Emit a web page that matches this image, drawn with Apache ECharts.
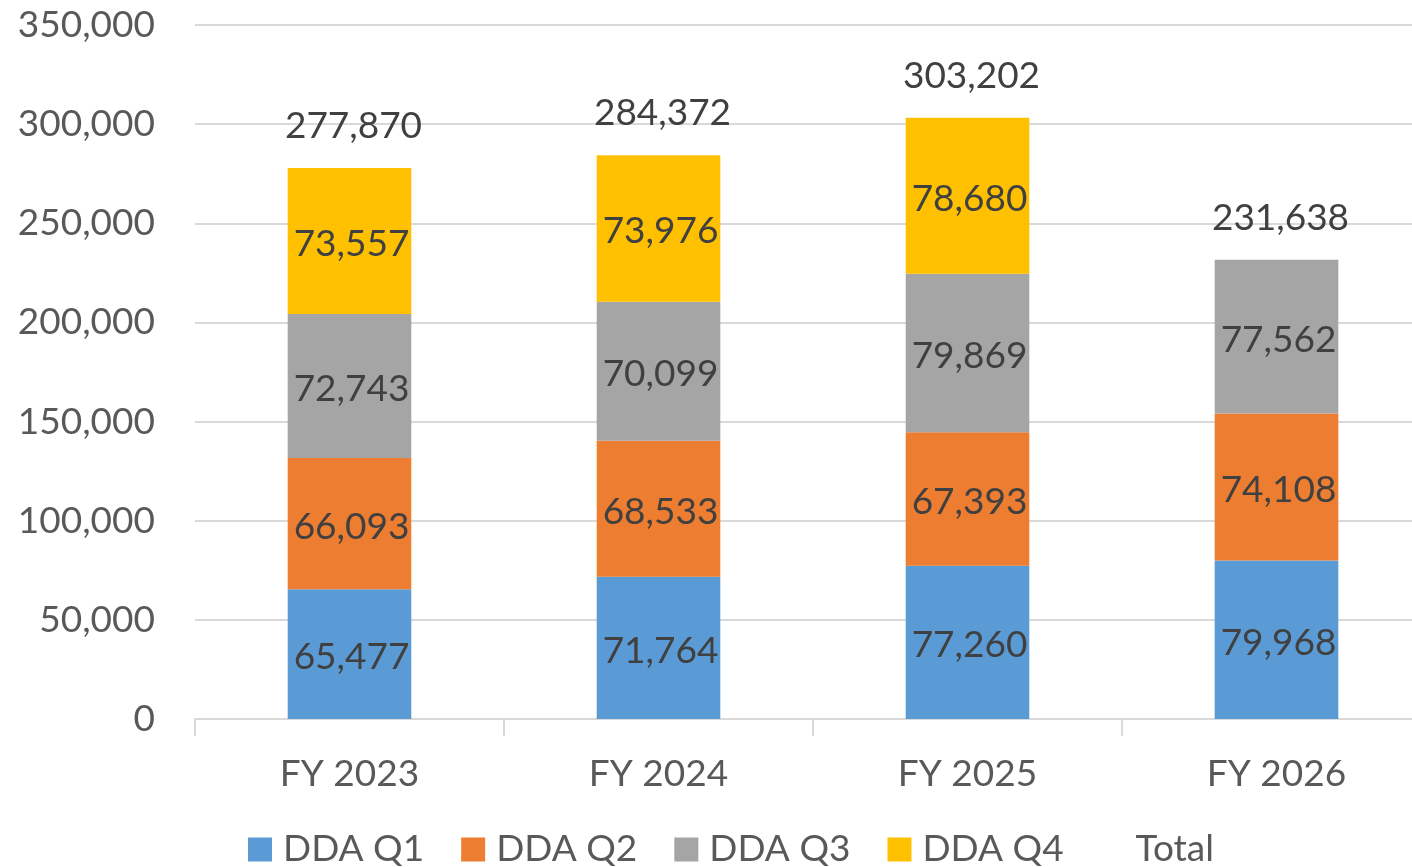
<!DOCTYPE html>
<html>
<head>
<meta charset="utf-8">
<script src="https://cdn.jsdelivr.net/npm/echarts@6/dist/echarts.min.js"></script>
<style>
  html, body {margin: 0; padding: 0; background: #fff;}
  #chart {width: 1412px; height: 867px;}
</style>
</head>
<body>
<div id="chart"></div>
<script>
const years = ["FY 2023", "FY 2024", "FY 2025", "FY 2026"];
const q1 = [65477, 71764, 77260, 79968];
const q2 = [66093, 68533, 67393, 74108];
const q3 = [72743, 70099, 79869, 77562];
const q4 = [73557, 73976, 78680, null];
const totals = [277870, 284372, 303202, 231638];

const FONT = "Lato";
const fmt = (v) => Number(v).toLocaleString("en-US");

const chart = echarts.init(document.getElementById("chart"));

function quarter(name, data, color) {
  return {
    name: name,
    type: "bar",
    stack: "dda",
    data: data,
    barWidth: "40%",
    itemStyle: {color: color},
    label: {
      show: true,
      position: "inside",
      offset: [2, 3],
      formatter: (p) => fmt(p.value),
      color: "#404040",
      fontFamily: FONT,
      fontSize: 37,
    },
  };
}

const option = {
  animation: false,
  textStyle: {fontFamily: FONT},
  grid: {left: 195, top: 25, width: 1236, bottom: 148, outerBoundsMode: "none"},
  legend: {
    top: 831,
    left: 248,
    padding: 0,
    icon: "rect",
    itemWidth: 24,
    itemHeight: 24,
    itemGap: 37,
    textStyle: {color: "#595959", fontSize: 37, fontFamily: FONT, padding: [0, 0, 0, 6]},
    data: ["DDA Q1", "DDA Q2", "DDA Q3", "DDA Q4", "Total"],
  },
  xAxis: {
    type: "category",
    data: years,
    axisLine: {lineStyle: {color: "#D9D9D9", width: 2}},
    axisTick: {show: true, length: 17, lineStyle: {color: "#D9D9D9", width: 2}},
    axisLabel: {color: "#595959", fontSize: 37, fontFamily: FONT, margin: 37},
  },
  yAxis: {
    type: "value",
    min: 0,
    max: 350000,
    interval: 50000,
    axisLine: {show: false},
    axisTick: {show: false},
    splitLine: {lineStyle: {color: "#D9D9D9", width: 2}},
    axisLabel: {
      color: "#595959",
      fontSize: 37,
      fontFamily: FONT,
      margin: 40,
      formatter: (v) => fmt(v),
    },
  },
  series: [
    quarter("DDA Q1", q1, "#5B9BD5"),
    quarter("DDA Q2", q2, "#ED7D31"),
    quarter("DDA Q3", q3, "#A5A5A5"),
    quarter("DDA Q4", q4, "#FFC000"),
    {
      name: "Total",
      type: "line",
      data: totals,
      symbol: "circle",
      symbolSize: 1,
      lineStyle: {width: 0, opacity: 0},
      itemStyle: {color: "transparent"},
      label: {
        show: true,
        position: "top",
        distance: 23,
        offset: [4, 0],
        formatter: (p) => fmt(p.value),
        color: "#404040",
        fontFamily: FONT,
        fontSize: 37,
      },
    },
  ],
};

chart.setOption(option);
</script>
</body>
</html>
